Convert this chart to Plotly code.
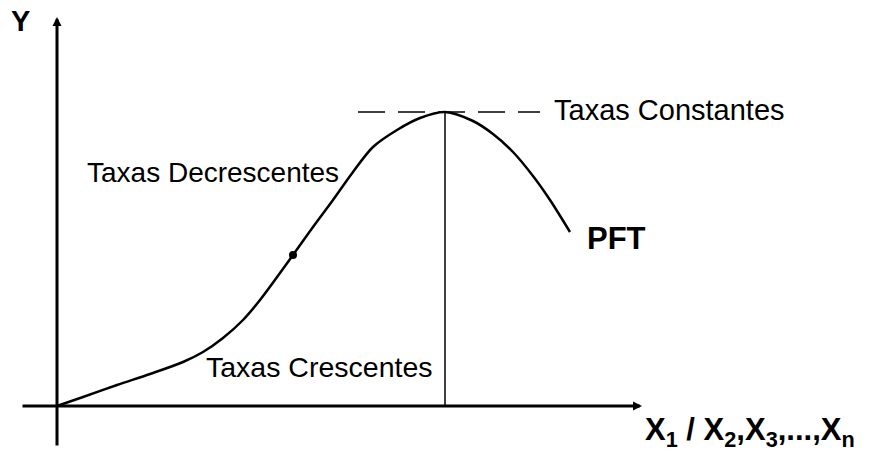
import plotly.graph_objects as go

# curve of the production function (x, y measured from the origin)
curve_x = [0, 26, 60, 93, 126, 146, 166, 186, 203, 236, 256, 276, 296, 316, 340, 363, 388, 416, 436, 456, 476, 493, 513]
curve_y = [0, 9, 21, 32, 44, 54, 68, 86, 106, 151, 179, 206, 234, 259, 276, 288, 294, 285, 272, 254, 230, 206, 174]

# inflection point
dot_x = [236]
dot_y = [151]

# maximum
peak_x = 388
peak_y = 294

# axes extents
x_axis = [-36, 585]
y_axis = [-41, 389]
dash_x = [301, 483]

labels = ["Taxas Constantes", "Taxas Decrescentes", "Taxas Crescentes"]
label_x = [495, 28, 147]
label_y = [296, 234, 39]
label_size = [29, 28, 28.5]

FONT = "Liberation Sans, Arial, sans-serif"

fig = go.Figure()

fig.add_trace(go.Scatter(
    x=curve_x, y=curve_y, mode='lines',
    line=dict(color='black', width=2.5, shape='spline', smoothing=0.9),
    hoverinfo='skip', showlegend=False,
))
fig.add_trace(go.Scatter(
    x=dot_x, y=dot_y, mode='markers',
    marker=dict(color='black', size=8, symbol='circle'),
    hoverinfo='skip', showlegend=False,
))

# vertical line from the maximum down to the x axis
fig.add_shape(type='line', x0=peak_x, x1=peak_x, y0=0, y1=peak_y,
              line=dict(color='black', width=1.5))
# dashed line through the maximum
fig.add_shape(type='line', x0=dash_x[0], x1=dash_x[1], y0=peak_y, y1=peak_y,
              line=dict(color='black', width=1.5, dash='27px,13px'))

# axes with arrows
fig.add_annotation(x=x_axis[1], y=0, ax=x_axis[0], ay=0, xref='x', yref='y',
                   axref='x', ayref='y', showarrow=True, arrowhead=2,
                   arrowsize=0.6, arrowwidth=3, arrowcolor='black', text='')
fig.add_annotation(x=0, y=y_axis[1], ax=0, ay=y_axis[0], xref='x', yref='y',
                   axref='x', ayref='y', showarrow=True, arrowhead=2,
                   arrowsize=0.6, arrowwidth=3, arrowcolor='black', text='')

for t, lx, ly, s in zip(labels, label_x, label_y, label_size):
    fig.add_annotation(x=lx, y=ly, text=t, showarrow=False, xanchor='left',
                       yanchor='middle', font=dict(family=FONT, size=s, color='black'))

fig.add_annotation(x=528, y=168, text='<b>PFT</b>', showarrow=False, xanchor='left',
                   yanchor='middle', font=dict(family=FONT, size=31, color='black'))
fig.add_annotation(x=-37, y=385, text='<b>Y</b>', showarrow=False, xanchor='center',
                   yanchor='middle', font=dict(family=FONT, size=29, color='black'))
fig.add_annotation(x=586, y=-26,
                   text='<b>X<sub>1</sub> / X<sub>2</sub>,X<sub>3</sub>,...,X<sub>n</sub></b>',
                   showarrow=False, xanchor='left', yanchor='middle',
                   font=dict(family=FONT, size=31, color='black'))

fig.update_xaxes(range=[-57, 816], visible=False, fixedrange=True)
fig.update_yaxes(range=[-48, 406], visible=False, fixedrange=True)

fig.update_layout(
    width=873,
    height=454,
    autosize=False,
    margin=dict(l=0, r=0, t=0, b=0),
    plot_bgcolor='white',
    paper_bgcolor='white',
    showlegend=False,
)

fig.write_html("out.html", config={'displayModeBar': False},
               post_script="document.body.style.margin='0px';document.body.style.overflow='hidden';")
